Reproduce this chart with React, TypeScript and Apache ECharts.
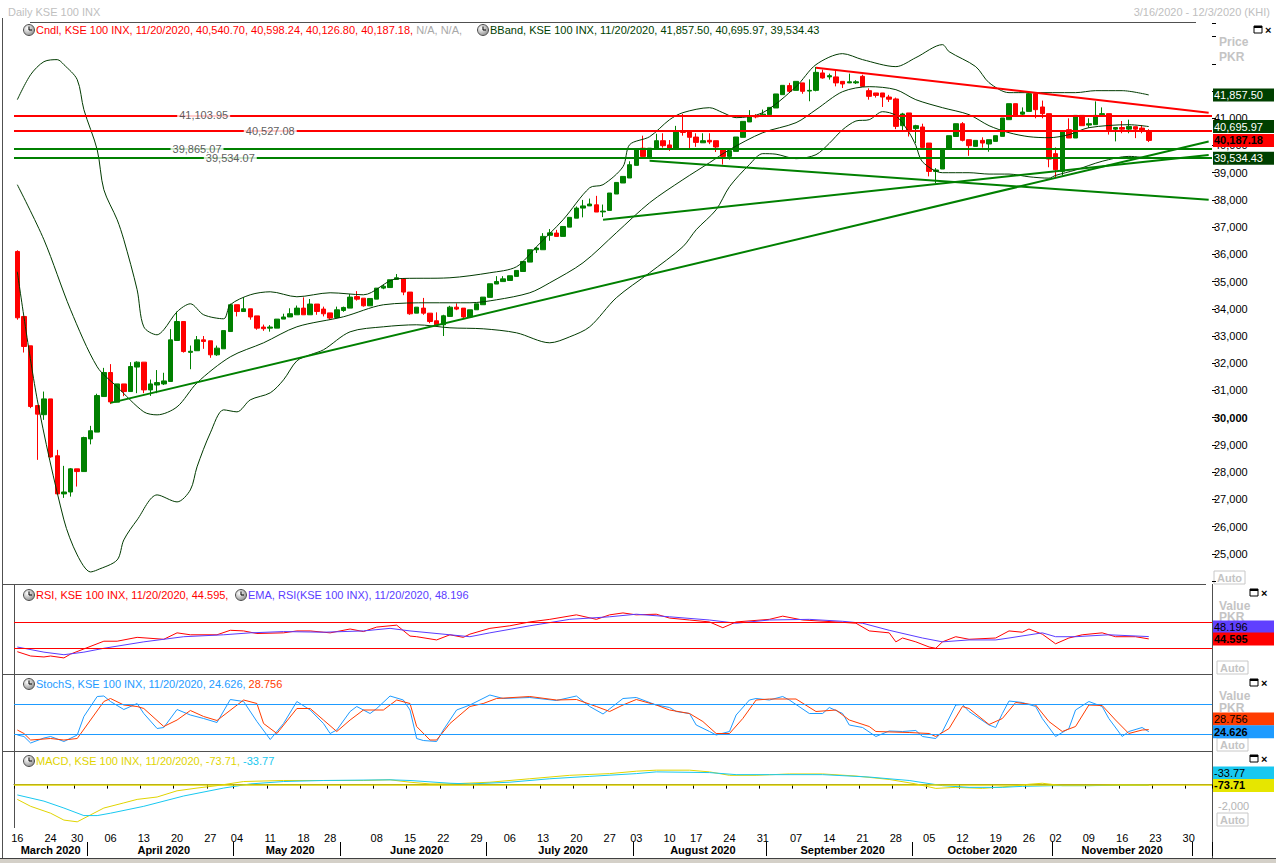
import React, { useEffect, useRef } from "react";
import * as echarts from "echarts";

const FONT = "'Liberation Sans', Arial, Helvetica, sans-serif";

// ---------- calendar (trading days shown on the category axis) ----------
const TRADING_DAYS: [string, string][] = [
  ["2020-03", "16 17 18 19 20 24 25 26 27 30 31"],
  ["2020-04", "01 02 03 06 07 08 09 10 13 14 15 16 17 20 21 22 23 24 27 28 29 30"],
  ["2020-05", "04 05 06 07 08 11 12 13 14 15 18 19 20 21 28 29"],
  ["2020-06", "01 02 03 04 05 08 09 10 11 12 15 16 17 18 19 22 23 24 25 26 29 30"],
  ["2020-07", "01 02 03 06 07 08 09 10 13 14 15 16 17 20 21 22 23 24 27 28 29 30"],
  ["2020-08", "03 04 05 06 07 10 11 12 13 17 18 19 20 21 24 25 26 27 28 31"],
  ["2020-09", "01 02 03 04 07 08 09 10 11 14 15 16 17 18 21 22 23 24 25 28 29 30"],
  ["2020-10", "01 02 05 06 07 08 09 12 13 14 15 16 19 20 21 22 23 26 27 28 29"],
  ["2020-11", "02 03 04 05 06 09 10 11 12 13 16 17 18 19 20 23 24 25 26 27 30"],
  ["2020-12", "01 02 03"],
];
const DATES: string[] = TRADING_DAYS.flatMap(([m, d]) => d.split(" ").map((x) => `${m}-${x}`));
const MONTH_NAMES = ["January", "February", "March", "April", "May", "June", "July", "August", "September", "October", "November", "December"];
const HIDDEN_DAY_LABELS = ["2020-06-01"];

// ---------- KSE 100 daily candles ----------
const OPEN = [
  36107, 33718, 32640, 30446, 30110, 30690, 28600, 27200, 27270, 28120,
  28020, 29220, 29470, 30777, 31660, 30570, 31240, 30960, 31860, 32040,
  31020, 31200, 31240, 31330, 32836, 33534, 32400, 32460, 32860, 32825,
  32310, 32530, 33165, 34150, 33900, 34000, 33740, 33330, 33290, 33290,
  33622, 33700, 33780, 34025, 33780, 34175, 33990, 33850, 33680, 33940,
  34025, 34450, 34390, 34110, 34355, 34760, 34780, 35080, 35100, 34615,
  33840, 34025, 33840, 33560, 33413, 33720, 34060, 34025, 33700, 33964,
  34150, 34420, 34910, 35000, 35040, 35190, 35370, 35717, 36170, 36170,
  36700, 36783, 36660, 37000, 37330, 37700, 37780, 37820, 37560, 37614,
  38217, 38622, 38805, 39270, 39900, 39560, 39900, 40176, 40020, 39907,
  40544, 40544, 40310, 40100, 40190, 40176, 39870, 39600, 39783, 40300,
  40865, 41100, 41080, 41132, 41378, 41867, 42200, 42025, 42300, 42000,
  42025, 42665, 42520, 42520, 42356, 42300, 42300, 42540, 42014, 41930,
  41930, 41780, 41710, 40728, 41195, 40620, 40680, 40090, 39048, 39136,
  39900, 40330, 40800, 40213, 39967, 40188, 40055, 40150, 40335, 40948,
  41536, 41150, 41253, 41904, 41415, 41170, 39700, 39048, 40580, 40275,
  41106, 40750, 40765, 41130, 41170, 40600, 40660, 40600, 40690, 40640,
  40540.7,
];
const CLOSE = [
  33670, 32615, 30410, 30130, 30690, 28560, 27200, 27270, 28120, 28020,
  29270, 29520, 30813, 31660, 30580, 31240, 30960, 31880, 32040, 31020,
  31240, 31290, 31350, 32860, 33534, 32430, 32440, 32860, 32800, 32310,
  32555, 33200, 34150, 33900, 34000, 33700, 33290, 33270, 33330, 33622,
  33700, 33820, 34025, 33780, 34175, 33900, 33817, 33660, 33964, 34050,
  34430, 34355, 34110, 34380, 34760, 34830, 35067, 35140, 34615, 33817,
  34060, 33840, 33534, 33413, 33744, 34060, 33990, 33700, 33964, 34185,
  34430, 34920, 35004, 35100, 35214, 35410, 35740, 36170, 36230, 36660,
  36790, 36660, 37025, 37360, 37700, 37780, 37850, 37555, 37590, 38254,
  38643, 38864, 39294, 39845, 39600, 39900, 40176, 39993, 39900, 40544,
  40480, 40300, 40114, 40176, 40130, 39944, 39600, 39810, 40312, 40886,
  41070, 41050, 41150, 41400, 41893, 42210, 41990, 42356, 41990, 42025,
  42687, 42480, 42565, 42300, 42260, 42340, 42340, 42172, 41805, 41840,
  41780, 41700, 40702, 41158, 40518, 40728, 39930, 39048, 39100, 39870,
  40360, 40800, 40190, 39993, 40188, 40090, 40213, 40360, 41010, 41536,
  41106, 41230, 41904, 41316, 41170, 39500, 39110, 40518, 40275, 41106,
  40728, 40800, 41106, 41170, 40580, 40660, 40600, 40700, 40600, 40560,
  40187.18,
];
const LOW = [
  33600, 32394, 30350, 28450, 29920, 28530, 27200, 27053, 27100, 27470,
  28020, 29020, 29470, 30777, 30500, 30570, 30790, 30960, 30900, 30900,
  30800, 30900, 31200, 31330, 32836, 32390, 31780, 32460, 32530, 32200,
  32270, 32530, 33165, 33720, 33900, 33600, 33230, 33190, 33160, 33290,
  33622, 33700, 33780, 33780, 33780, 33780, 33720, 33600, 33680, 33890,
  34025, 34300, 34080, 34110, 34355, 34720, 34780, 35080, 34500, 33780,
  33840, 33780, 33470, 33350, 33000, 33720, 33950, 33650, 33700, 33964,
  34150, 34420, 34910, 35000, 35040, 35190, 35370, 35717, 36050, 36170,
  36500, 36660, 36660, 37000, 37330, 37360, 37780, 37555, 37370, 37614,
  38217, 38622, 38805, 39270, 39600, 39500, 39900, 39920, 39800, 39907,
  40360, 39900, 39950, 40100, 40050, 39760, 39300, 39480, 39783, 40300,
  40865, 41000, 41050, 41132, 41378, 41867, 41950, 42025, 41900, 41625,
  41990, 42455, 42420, 42172, 42113, 42290, 42260, 42150, 41683, 41760,
  41415, 41600, 40600, 40500, 40330, 40090, 39850, 38864, 38620, 39136,
  39900, 40330, 40150, 39620, 39967, 39920, 39770, 40150, 40335, 40948,
  41106, 41080, 41253, 41000, 41000, 39200, 38800, 38900, 40275, 40275,
  40728, 40650, 40765, 41130, 40400, 40150, 40450, 40450, 40270, 40450,
  40126.8,
];
const HIGH = [
  36150, 33718, 32640, 30446, 30960, 30690, 28818, 28230, 28150, 28120,
  29300, 29700, 30880, 31830, 31968, 31240, 31240, 32040, 32070, 32040,
  31400, 31750, 31650, 33253, 33900, 33534, 32650, 33000, 33000, 32825,
  32650, 33200, 34190, 34150, 34420, 34000, 33740, 33420, 33400, 33622,
  33820, 34020, 34120, 34420, 34360, 34175, 34080, 33850, 34080, 34080,
  34540, 34650, 34390, 34380, 34760, 34880, 35067, 35277, 35100, 34615,
  34060, 34400, 33840, 33870, 33780, 34110, 34200, 34025, 33964, 34185,
  34430, 34920, 35200, 35200, 35214, 35410, 35740, 36170, 36280, 36780,
  36930, 36900, 37025, 37360, 37760, 38000, 38050, 38150, 37830, 38254,
  38643, 38864, 39420, 39845, 40360, 39900, 40430, 40450, 40200, 40720,
  41158, 40544, 40450, 40450, 40450, 40176, 39870, 39810, 40312, 40886,
  41300, 41150, 41320, 41400, 41893, 42210, 42300, 42356, 42300, 42430,
  42885, 42786, 42640, 42786, 42356, 42640, 42400, 42600, 42100, 41930,
  41930, 41860, 41760, 41200, 41195, 40760, 40800, 40090, 39170, 39870,
  40360, 40800, 40860, 40213, 40188, 40300, 40213, 40360, 41010, 41536,
  41536, 41400, 41960, 41960, 41650, 41170, 39930, 40518, 41000, 41106,
  41106, 41000, 41621, 41400, 41170, 40660, 40900, 40950, 40690, 40750,
  40598.24,
];

// ---------- Bollinger bands, read at sample days [day index, value] ----------
const BB_UPPER = [[0,41683],[2,42602],[4,43080],[6,43154],[7,42970],[9,42419],[10,41316],[12,39845],[13,38375],[15,37272],[16,36537],[18,34699],[19,33339],[21,33045],[22,33229],[24,33890],[26,34184],[28,33780],[31,33633],[32,34148],[35,34515],[38,34625],[42,34442],[47,34589],[52,34515],[57,35104],[65,35140],[71,35324],[75,35545],[78,36280],[82,37272],[86,38449],[88,38559],[91,39221],[92,40029],[95,40323],[98,40948],[100,41206],[104,41389],[106,41206],[108,41022],[112,41206],[117,42161],[120,42970],[124,43374],[127,43154],[132,42897],[135,43227],[139,43705],[140,43448],[144,42897],[146,42308],[149,41941],[152,41941],[159,41941],[162,42014],[166,42014],[170,41857.5]];
const BB_MIDDLE = [[0,38559],[4,36537],[8,33964],[12,31869],[15,31133],[19,30214],[21,30104],[24,30398],[27,31280],[32,32236],[37,32751],[42,33339],[49,33707],[55,34148],[62,34221],[68,34221],[72,34331],[77,34589],[80,34956],[85,35692],[90,36794],[95,37897],[100,38743],[104,39368],[107,39845],[112,40470],[117,40838],[120,41316],[124,41978],[128,42161],[132,42051],[135,41683],[139,41389],[143,41132],[146,40728],[149,40470],[152,40323],[155,40286],[158,40397],[161,40654],[167,40764],[170,40695.97]];
const BB_LOWER = [[0,35360],[3,30655],[7,26245],[9,24958],[11,24333],[12,24406],[15,24774],[16,25509],[18,26245],[21,27163],[24,26906],[26,27347],[27,28193],[29,29442],[31,30288],[33,30214],[35,30655],[38,30913],[40,31391],[42,32089],[44,32310],[46,32494],[50,33155],[55,33339],[60,33413],[65,33302],[70,33265],[75,33118],[80,32751],[83,32971],[86,33339],[90,34405],[95,35324],[100,36280],[102,36905],[105,37640],[107,38485],[110,39300],[112,39700],[114,39680],[117,39515],[120,39662],[122,40080],[124,40580],[126,40900],[128,40948],[130,41242],[132,41100],[134,40470],[135,40000],[136,39400],[139,39000],[143,39000],[146,38950],[149,38950],[152,38850],[155,38800],[156,38900],[159,39100],[163,39420],[167,39600],[170,39534.43]];

// ---------- indicators, read at sample days ----------
const RSI = [[0,24.7],[2,18],[4,16.5],[5,18],[7,15],[8,21],[10,29],[13,41],[15,41],[18,47],[22,44],[24,54],[26,51],[30,51],[32,58],[34,57],[36,53],[40,54],[42,57],[44,57],[47,54],[50,60],[52,56],[54,63],[57,66],[59,49],[60,48],[63,43],[65,51],[67,47],[68,52],[71,61],[74,65],[77,71],[80,75],[84,82],[87,75],[89,82],[91,85],[93,82],[96,83],[98,77],[101,74],[104,71],[106,62],[108,71],[113,75],[115,80],[118,74],[123,71],[126,69],[128,57],[131,54],[132,40],[133,46],[135,40],[137,32],[138,30],[139,40],[141,48],[143,44],[147,46],[149,57],[151,55],[152,60],[154,52],[156,37],[158,46],[160,51],[163,54],[165,48],[168,48],[170,44.595]];
const RSI_EMA = [[0,32],[4,24],[7,20],[10,24],[13,30],[19,40],[25,48],[31,51],[35,54],[40,56],[46,55],[52,57],[56,61],[59,57],[65,51],[68,48],[71,54],[77,65],[83,75],[89,79],[93,83],[98,79],[104,74],[108,69],[113,74],[119,75],[124,72],[127,69],[131,58],[136,46],[139,40],[143,43],[147,43],[149,46],[154,54],[156,48],[159,48],[164,51],[170,48.196]];
const STOCH_K = [[0,18],[1,15],[2,2],[4,12],[5,15],[7,5],[9,18],[10,55],[12,95],[13,96],[14,85],[16,69],[18,81],[19,61],[21,31],[22,33],[24,69],[26,58],[28,51],[30,43],[32,89],[34,85],[36,45],[38,9],[40,41],[42,85],[44,68],[46,41],[47,21],[48,28],[50,65],[51,75],[53,61],[54,71],[56,96],[58,88],[59,68],[60,11],[61,7],[63,5],[64,28],[66,68],[68,78],[71,98],[73,91],[77,93],[81,87],[84,96],[86,75],[88,60],[91,91],[93,93],[96,78],[98,73],[99,65],[101,61],[102,38],[104,25],[105,18],[107,25],[108,58],[110,88],[111,91],[113,88],[115,95],[116,88],[119,61],[121,61],[122,73],[124,61],[125,38],[127,33],[129,15],[131,26],[133,25],[135,27],[136,15],[138,11],[139,25],[141,78],[142,79],[143,65],[146,38],[147,33],[148,61],[149,86],[151,83],[153,75],[154,51],[156,15],[158,31],[159,68],[161,85],[163,75],[164,51],[166,15],[167,25],[169,33],[170,24.626]];
const STOCH_D = [[0,28],[1,21],[2,8],[5,11],[7,8],[9,11],[11,48],[13,85],[14,91],[16,78],[18,75],[19,71],[22,35],[24,48],[26,67],[28,55],[30,47],[34,88],[36,81],[37,41],[39,21],[42,71],[44,71],[46,48],[48,25],[50,48],[52,68],[55,68],[57,88],[59,81],[60,35],[62,8],[63,8],[65,41],[68,75],[70,81],[72,91],[77,95],[81,88],[84,89],[87,75],[89,65],[91,78],[93,89],[96,78],[98,68],[101,61],[103,45],[105,21],[107,21],[109,51],[111,88],[113,90],[117,90],[120,65],[123,68],[125,48],[128,35],[129,25],[134,23],[137,21],[138,15],[140,31],[142,75],[143,71],[146,39],[148,51],[150,83],[153,78],[155,45],[157,25],[159,35],[161,78],[163,77],[165,48],[167,21],[169,28],[170,28.756]];
const MACD = [[0,-1362],[2,-2000],[5,-2635],[7,-3270],[9,-3430],[11,-2790],[13,-2160],[16,-1685],[18,-1362],[21,-1142],[24,-571],[27,-317],[30,-95],[34,286],[40,380],[46,380],[52,380],[56,444],[59,222],[62,63],[65,63],[71,222],[77,540],[83,857],[89,1015],[93,1238],[96,1333],[101,1333],[104,1174],[107,857],[111,857],[116,984],[121,984],[126,794],[131,476],[135,63],[138,-349],[141,-254],[145,-349],[149,-159],[152,32],[154,127],[157,-95],[161,-95],[166,-32],[170,-73.71]];
const MACD_SIGNAL = [[0,-952],[4,-1523],[7,-2160],[10,-2856],[12,-2856],[14,-2635],[19,-2000],[25,-1047],[31,-317],[35,63],[40,286],[46,380],[56,444],[59,380],[65,127],[68,63],[74,222],[80,540],[86,762],[93,1015],[96,1174],[104,1110],[108,920],[113,920],[121,920],[128,698],[134,380],[139,-95],[143,-254],[148,-254],[151,-159],[156,-95],[161,-95],[170,-33.77]];

// ---------- drawn studies ----------
const LEVELS = [
  { value: 41103.95, text: "41,103.95", color: "#ff0000", at: 28 },
  { value: 40527.08, text: "40,527.08", color: "#ff0000", at: 38 },
  { value: 39865.07, text: "39,865.07", color: "#008000", at: 27 },
  { value: 39534.07, text: "39,534.07", color: "#008000", at: 32 },
];
const TREND_LINES = [
  { from: [14, 30545], to: [179, 40147], color: "#008000" },
  { from: [88, 37272], to: [179, 39654], color: "#008000" },
  { from: [95, 39441], to: [179, 38007], color: "#008000" },
  { from: [120, 42860], to: [179, 41206], color: "#ff0000" },
];

// value tags on the right axes: [value shown, position value, background, text colour, bold]
const PRICE_TAGS: [string, number, string, string, boolean][] = [
  ["41,857.50", 41857.5, "#004000", "#ffffff", false],
  ["40,695.97", 40695.97, "#004000", "#ffffff", false],
  ["40,187.18", 40187.18, "#ff0000", "#000000", true],
  ["39,534.43", 39534.43, "#004000", "#ffffff", false],
];
const RSI_TAGS: [string, number, string, string, boolean][] = [
  ["48.196", 63, "#6040ff", "#000000", false],
  ["44.595", 44.595, "#ff0000", "#000000", true],
];
const STOCH_TAGS: [string, number, string, string, boolean][] = [
  ["28.756", 50, "#ff3c00", "#000000", false],
  ["24.626", 24.626, "#1e9bff", "#000000", true],
];
const MACD_TAGS: [string, number, string, string, boolean][] = [
  ["-33.77", 1072, "#18c8f0", "#000000", false],
  ["-73.71", -73.71, "#e6e600", "#000000", true],
];

// ---------- helpers ----------
const dayNum = (s: string) => Math.round(Date.UTC(+s.slice(0, 4), +s.slice(5, 7) - 1, +s.slice(8, 10)) / 86400000);
const mondayOf = (s: string) => { const n = dayNum(s); return n - ((n + 3) % 7); };
const isWeekStart = (i: number) => i === 0 || mondayOf(DATES[i]) !== mondayOf(DATES[i - 1]);
const isMonthStart = (i: number) => i > 0 && DATES[i].slice(0, 7) !== DATES[i - 1].slice(0, 7);
const MONTH_MIDS: number[] = (() => {
  const out: number[] = [];
  let start = 0;
  for (let i = 1; i <= DATES.length; i++) {
    if (i === DATES.length || DATES[i].slice(0, 7) !== DATES[i - 1].slice(0, 7)) {
      if (i - start >= 5) out.push(Math.ceil((start + i - 1) / 2));
      start = i;
    }
  }
  return out;
})();

const tagItem = ([text, pos, bg, fg, bold]: [string, number, string, string, boolean]) => ({
  yAxis: pos,
  lineStyle: { color: "rgba(0,0,0,0)", width: 1, opacity: 1 },
  label: {
    show: true, position: "end", distance: 1, formatter: text, opacity: 1,
    backgroundColor: bg, color: fg, fontFamily: FONT, fontSize: 11,
    fontWeight: bold ? "bold" : "normal", padding: [1, 2, 0, 1], width: 58, lineHeight: 12,
  },
});

const FRAME = "#505050";
const gLine = (x1: number, y1: number, x2: number, y2: number, color = FRAME, w = 1) => ({
  type: "line", silent: true, shape: { x1, y1, x2, y2 }, style: { stroke: color, lineWidth: w },
});
const gText = (x: number, y: number, text: string, fill: string, extra: any = {}) => ({
  type: "text", silent: true, x, y,
  style: { text, fill, font: `11px ${FONT}`, verticalAlign: "middle", ...extra },
});
const richText = (x: number, y: number, parts: [string, string][]) => {
  const rich: any = {};
  let text = "";
  parts.forEach(([t, c], k) => { rich["p" + k] = { fill: c, font: `11px ${FONT}` }; text += `{p${k}|${t}}`; });
  return { type: "text", silent: true, x, y, style: { text, rich, font: `11px ${FONT}`, verticalAlign: "middle" } };
};
const clock = (x: number, y: number) => ({
  type: "group", x, y, silent: true,
  children: [
    { type: "circle", shape: { cx: 0, cy: 0, r: 5.5 }, style: { fill: new echarts.graphic.RadialGradient(0.35, 0.35, 0.8, [{ offset: 0, color: "#ffffff" }, { offset: 1, color: "#808080" }]), stroke: "#505050", lineWidth: 1 } },
    { type: "line", shape: { x1: 0, y1: 0, x2: 0, y2: -3.5 }, style: { stroke: "#000", lineWidth: 1 } },
    { type: "line", shape: { x1: 0, y1: 0, x2: 3, y2: 0 }, style: { stroke: "#000", lineWidth: 1 } },
  ],
});
const winIcon = (x: number, y: number) => ({
  type: "group", x, y, silent: true,
  children: [
    { type: "rect", shape: { x: 0, y: 0, width: 8, height: 7 }, style: { fill: "#fff", stroke: "#000", lineWidth: 1 } },
    { type: "rect", shape: { x: 0, y: 0, width: 8, height: 2 }, style: { fill: "#000" } },
    { type: "text", x: 11, y: 3.5, style: { text: "×", fill: "#000", font: `bold 11px ${FONT}`, verticalAlign: "middle" } },
  ],
});
const autoBox = (x: number, y: number) => ({
  type: "group", x, y, silent: true,
  children: [
    { type: "rect", shape: { x: 0, y: 0, width: 31, height: 13 }, style: { fill: "#fff", stroke: "#c8c8c8", lineWidth: 1 } },
    { type: "text", x: 15.5, y: 7, style: { text: "Auto", fill: "#c4c4c4", font: `bold 11px ${FONT}`, align: "center", verticalAlign: "middle" } },
  ],
});

function buildOption(): any {
  const candles = OPEN.map((o, i) => [o, CLOSE[i], LOW[i], HIGH[i]]);
  const hiddenX = (g: number) => ({ type: "category", gridIndex: g, data: DATES, show: false });
  const hiddenY = (g: number, min: number, max: number) => ({
    type: "value", gridIndex: g, min, max, position: "right", show: false, splitLine: { show: false },
  });
  const lineSeries = (name: string, x: number, data: number[][], color: string, extra: any = {}) => ({
    name, type: "line", xAxisIndex: x, yAxisIndex: x, data, showSymbol: false, symbol: "none",
    lineStyle: { color, width: 1 }, itemStyle: { color }, silent: true, ...extra,
  });
  const refLines = (vals: number[], color: string, w = 1) =>
    vals.map((v) => ({ yAxis: v, lineStyle: { color, width: w, type: "solid" }, label: { show: false } }));
  const mark = (data: any[]) => ({ silent: true, symbol: ["none", "none"], label: { show: false }, animation: false, data });

  return {
    animation: false,
    backgroundColor: "#ffffff",
    textStyle: { fontFamily: FONT },
    grid: [
      { left: 14, right: 64, top: 23, height: 558, outerBoundsMode: "none" },
      { left: 14, right: 64, top: 584, height: 90, outerBoundsMode: "none" },
      { left: 14, right: 64, top: 674, height: 77, outerBoundsMode: "none" },
      { left: 14, right: 64, top: 751, height: 77, outerBoundsMode: "none" },
    ],
    xAxis: [
      hiddenX(0), hiddenX(1), hiddenX(2),
      {
        // day-of-month row
        type: "category", gridIndex: 3, data: DATES,
        axisLine: { show: true, lineStyle: { color: FRAME, width: 1 } },
        axisTick: { show: true, interval: (i: number) => isWeekStart(i), length: 4, lineStyle: { color: "#000", width: 1 } },
        axisLabel: {
          show: true,
          interval: (i: number) => isWeekStart(i) && !HIDDEN_DAY_LABELS.includes(DATES[i]),
          formatter: (v: string) => v.slice(8), color: "#000", fontSize: 11, margin: 4, fontFamily: FONT,
        },
      },
      {
        // month separators
        type: "category", gridIndex: 3, data: DATES, position: "bottom", offset: 14,
        axisLine: { show: false },
        axisTick: { show: true, interval: (i: number) => isMonthStart(i), length: 14, lineStyle: { color: "#000", width: 1 } },
        axisLabel: { show: false },
      },
      {
        // month names
        type: "category", gridIndex: 3, data: DATES, position: "bottom", offset: 28,
        axisLine: { show: false },
        axisTick: { show: false },
        axisLabel: {
          show: true, interval: (i: number) => MONTH_MIDS.includes(i), inside: true, margin: 1,
          formatter: (v: string) => `${MONTH_NAMES[+v.slice(5, 7) - 1]} ${v.slice(0, 4)}`,
          color: "#000", fontSize: 11, fontWeight: "bold", fontFamily: FONT,
        },
      },
    ],
    yAxis: [
      {
        type: "value", gridIndex: 0, position: "right", min: 24000, max: 44500, interval: 1000,
        splitLine: { show: false }, axisLine: { show: false },
        axisTick: { show: true, length: 4, lineStyle: { color: "#000" } },
        axisLabel: {
          margin: 2, color: "#000", fontSize: 11, fontFamily: FONT,
          formatter: (v: number) => (v > 41000 || v < 25000 ? "" : v === 30000 ? "{b|30,000}" : echarts.format.addCommas(v)),
          rich: { b: { fontWeight: "bold", color: "#000", fontSize: 11, fontFamily: FONT } },
        },
      },
      hiddenY(1, -10, 130),
      hiddenY(2, -14, 140),
      {
        type: "value", gridIndex: 3, position: "right", min: -4000, max: 3100, interval: 2000,
        splitLine: { show: false }, axisLine: { show: false }, axisTick: { show: false },
        axisLabel: { margin: 6, color: "#b4b4b4", fontSize: 11, fontFamily: FONT, formatter: (v: number) => (v === -2000 ? "-2,000" : "") },
      },
    ],
    series: [
      {
        name: "Cndl", type: "candlestick", xAxisIndex: 0, yAxisIndex: 0, data: candles, barWidth: 5, silent: true,
        itemStyle: { color: "#008000", color0: "#ff0000", borderColor: "#008000", borderColor0: "#ff0000", borderWidth: 1 },
        markLine: mark([
          ...LEVELS.map((l) => ({ yAxis: l.value, lineStyle: { color: l.color, width: 2, type: "solid" }, label: { show: false } })),
          ...TREND_LINES.map((t) => [
            { coord: t.from, lineStyle: { color: t.color, width: 2, type: "solid" }, label: { show: false } },
            { coord: t.to },
          ]),
          ...PRICE_TAGS.map(tagItem),
        ]),
      },
      lineSeries("BB upper", 0, BB_UPPER, "#003a00", { smooth: 0.3 }),
      lineSeries("BB middle", 0, BB_MIDDLE, "#003a00", { smooth: 0.3 }),
      lineSeries("BB lower", 0, BB_LOWER, "#003a00", { smooth: 0.3 }),
      {
        name: "levels", type: "scatter", xAxisIndex: 0, yAxisIndex: 0, z: 10, silent: true,
        symbolSize: 1, itemStyle: { color: "rgba(0,0,0,0)" },
        data: LEVELS.map((l) => ({ name: l.text, value: [l.at, l.value] })),
        label: { show: true, position: "inside", formatter: "{b}", color: "#333", backgroundColor: "#ffffff", fontSize: 11, fontFamily: FONT, padding: [0, 2] },
      },
      lineSeries("RSI", 1, RSI, "#ff0000", { markLine: mark([...refLines([70, 30], "#ff0000"), ...RSI_TAGS.map(tagItem)]) }),
      lineSeries("EMA", 1, RSI_EMA, "#5a3cff"),
      lineSeries("StochS %K", 2, STOCH_K, "#1e9bff", { markLine: mark([...refLines([80, 20], "#1e9bff"), ...STOCH_TAGS.map(tagItem)]) }),
      lineSeries("StochS %D", 2, STOCH_D, "#ff3c00"),
      lineSeries("MACD", 3, MACD, "#e0d400", { markLine: mark([...refLines([0], "#e0d400", 1.5), ...MACD_TAGS.map(tagItem)]) }),
      lineSeries("Signal", 3, MACD_SIGNAL, "#18c8f0"),
    ],
    graphic: [
      { type: "rect", silent: true, shape: { x: 0, y: 858, width: 1276, height: 5 }, style: { fill: "#d4d0c8" } },
      gLine(0, 858.5, 1276, 858.5, "#404040", 1),
      gLine(2.5, 18, 2.5, 858),
      gLine(30, 22.5, 1196, 22.5),
      gLine(2, 584.5, 1206, 584.5),
      gLine(2, 674.5, 1212, 674.5),
      gLine(2, 751.5, 1212, 751.5),
      gLine(14.5, 584, 14.5, 828),
      gLine(1212.5, 584, 1212.5, 858),
      gText(8, 12, "Daily KSE 100 INX", "#c0c0c0"),
      gText(1270, 12, "3/16/2020 - 12/3/2020 (KHI)", "#c0c0c0", { align: "right" }),
      clock(29, 30),
      richText(36, 30, [["Cndl, KSE 100 INX, 11/20/2020, 40,540.70, 40,598.24, 40,126.80, 40,187.18, ", "#ff0000"], ["N/A, N/A,", "#a8a8a8"]]),
      clock(483, 30),
      richText(490, 30, [["BBand, KSE 100 INX, 11/20/2020, 41,857.50, 40,695.97, 39,534.43", "#004000"]]),
      clock(29, 595),
      richText(36, 595, [["RSI, KSE 100 INX, 11/20/2020, 44.595,", "#ff0000"]]),
      clock(241, 595),
      richText(248, 595, [["EMA, RSI(KSE 100 INX), 11/20/2020, 48.196", "#5a3cff"]]),
      clock(29, 684),
      richText(36, 684, [["StochS, KSE 100 INX, 11/20/2020, 24.626, ", "#1e9bff"], ["28.756", "#ff3c00"]]),
      clock(29, 761),
      richText(36, 761, [["MACD, KSE 100 INX, 11/20/2020, -73.71, ", "#e0d400"], ["-33.77", "#18c8f0"]]),
      winIcon(1254, 26),
      winIcon(1250, 589),
      winIcon(1250, 679),
      winIcon(1250, 755),
      gText(1219, 42, "Price", "#c4c4c4", { font: `bold 12px ${FONT}` }),
      gText(1219, 57, "PKR", "#c4c4c4", { font: `bold 12px ${FONT}` }),
      gText(1219, 606, "Value", "#c4c4c4", { font: `bold 12px ${FONT}` }),
      gText(1219, 617, "PKR", "#c4c4c4", { font: `bold 12px ${FONT}` }),
      gText(1219, 696, "Value", "#c4c4c4", { font: `bold 12px ${FONT}` }),
      gText(1219, 708, "PKR", "#c4c4c4", { font: `bold 12px ${FONT}` }),
      autoBox(1214, 571),
      autoBox(1217, 661),
      autoBox(1217, 738),
      autoBox(1217, 813),
    ],
  };
}

export default function App() {
  const ref = useRef<HTMLDivElement>(null);
  useEffect(() => {
    document.body.style.margin = "0";
    const chart = echarts.init(ref.current as HTMLDivElement, null, { renderer: "svg" });
    chart.setOption(buildOption());
    return () => chart.dispose();
  }, []);
  return <div ref={ref} style={{ width: 1276, height: 863 }} />;
}
